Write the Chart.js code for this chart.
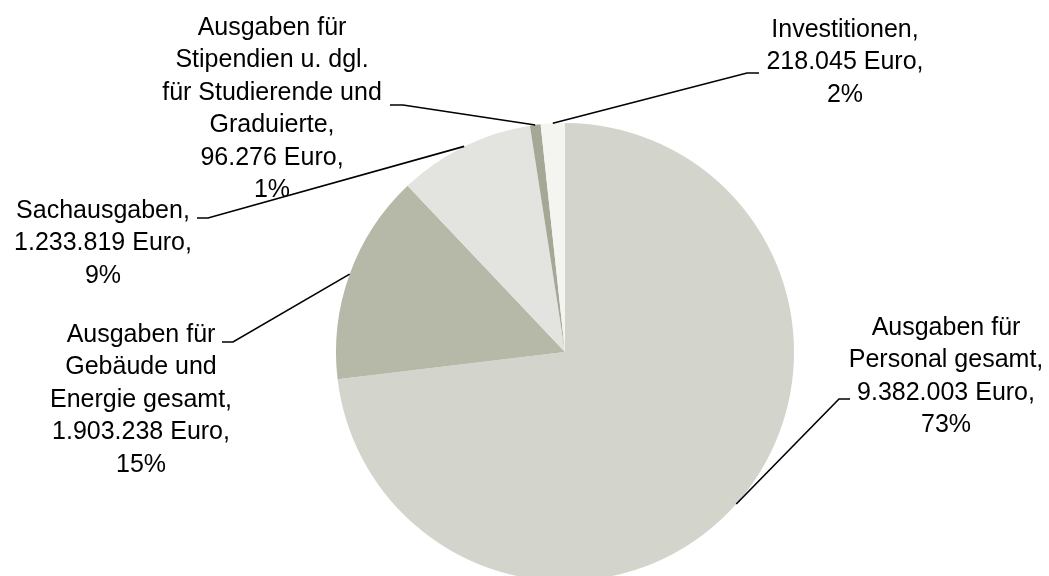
<!DOCTYPE html>
<html>
<head>
<meta charset="utf-8">
<script src="https://cdn.jsdelivr.net/npm/chart.js@4.4.1/dist/chart.umd.min.js"></script>
<style>
  html, body { margin: 0; padding: 0; background: #ffffff; overflow: hidden; }
  #wrap { position: absolute; left: 0; top: 0; width: 1049px; height: 600px; }
</style>
</head>
<body>
<div id="wrap"><canvas id="c" width="1049" height="600"></canvas></div>
<script>
// ---- Data ----
const categories = [
  "Ausgaben für\nPersonal gesamt,",
  "Ausgaben für\nGebäude und\nEnergie gesamt,",
  "Sachausgaben,",
  "Ausgaben für\nStipendien u. dgl.\nfür Studierende und\nGraduierte,",
  "Investitionen,"
];
const values = [9382003, 1903238, 1233819, 96276, 218045];
const percentLabels = ["73%", "15%", "9%", "1%", "2%"];
const colors = ["#d3d4cb", "#b7b9a8", "#e3e4df", "#a5a894", "#f4f4f1"];

function fmtDE(n) {
  return String(n).replace(/\B(?=(\d{3})+(?!\d))/g, ".");
}

// label layout (annotation positions): text centre x, first baseline y, elbow and end of leader
const labelLayout = [
  { cx: 946, by: 335, elbow: [839, 399], end: [850, 399] },
  { cx: 141, by: 342, elbow: [233, 342], end: [222, 342] },
  { cx: 103, by: 218, elbow: [208, 218], end: [197, 218] },
  { cx: 272, by: 35,  elbow: [403, 105], end: [390, 105] },
  { cx: 845, by: 37,  elbow: [747, 73],  end: [759, 73] }
];
const lineHeight = 32.4;

const labelPlugin = {
  id: 'outLabels',
  afterDraw(chart) {
    const ctx = chart.ctx;
    const meta = chart.getDatasetMeta(0);
    ctx.save();
    ctx.strokeStyle = '#000';
    ctx.lineWidth = 1.6;
    meta.data.forEach((arc, i) => {
      const p = arc.getProps(['x', 'y', 'startAngle', 'endAngle', 'outerRadius'], true);
      const mid = (p.startAngle + p.endAngle) / 2;
      const sx = p.x + Math.cos(mid) * p.outerRadius;
      const sy = p.y + Math.sin(mid) * p.outerRadius;
      const L = labelLayout[i];
      ctx.beginPath();
      ctx.moveTo(sx, sy);
      ctx.lineTo(L.elbow[0], L.elbow[1]);
      ctx.lineTo(L.end[0], L.end[1]);
      ctx.stroke();
    });
    ctx.fillStyle = '#000';
    ctx.font = '25px "Liberation Sans", Arial, sans-serif';
    ctx.textAlign = 'center';
    ctx.textBaseline = 'alphabetic';
    categories.forEach((cat, i) => {
      const lines = cat.split('\n').concat([fmtDE(values[i]) + ' Euro,', percentLabels[i]]);
      const L = labelLayout[i];
      lines.forEach((t, k) => ctx.fillText(t, L.cx, L.by + k * lineHeight));
    });
    ctx.restore();
  }
};

new Chart(document.getElementById('c'), {
  type: 'pie',
  data: {
    labels: categories.map(c => c.replace(/\n/g, ' ')),
    datasets: [{
      data: values,
      backgroundColor: colors,
      borderWidth: 0
    }]
  },
  options: {
    responsive: false,
    devicePixelRatio: 1,
    animation: false,
    layout: { padding: { top: 123, bottom: 19, left: 336, right: 255 } },
    plugins: {
      legend: { display: false },
      tooltip: { enabled: false }
    }
  },
  plugins: [labelPlugin]
});
</script>
</body>
</html>
